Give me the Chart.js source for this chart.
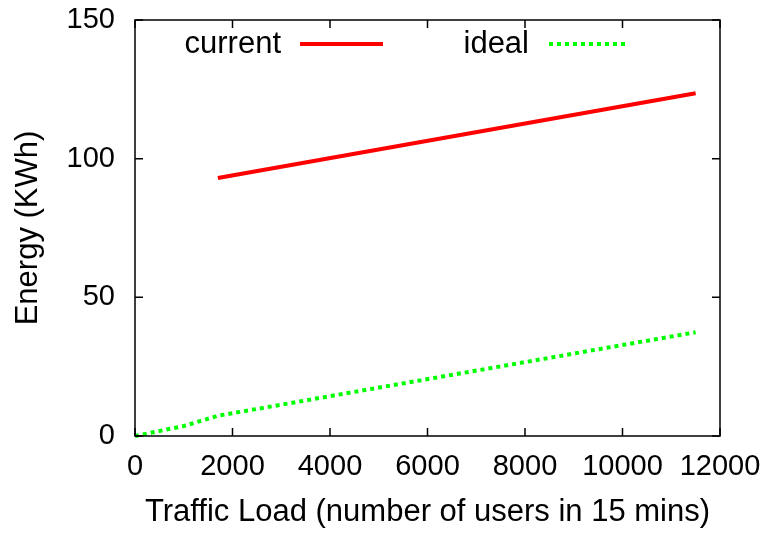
<!DOCTYPE html>
<html>
<head>
<meta charset="utf-8">
<script src="https://cdn.jsdelivr.net/npm/chart.js@4/dist/chart.umd.min.js"></script>
<style>
  html, body { margin: 0; padding: 0; background: #ffffff; }
  #wrap { width: 768px; height: 533px; }
</style>
</head>
<body>
<div id="wrap"><canvas id="c" width="768" height="533"></canvas></div>
<script>
// ---- data ----
const currentX = [1700, 11500];
const currentY = [93, 123.6];
const idealX = [0, 1000, 1700, 11500];
const idealY = [0, 3.6, 7.3, 37.4];
const seriesNames = ['current', 'ideal'];
const xTitle = 'Traffic Load (number of users in 15 mins)';
const yTitle = 'Energy (KWh)';
const xTickStep = 2000;
const yTickStep = 50;

const FONT = 'Liberation Sans, Arial, Helvetica, sans-serif';

function toPoints(xs, ys) { return xs.map((x, i) => ({ x: x, y: ys[i] })); }

const framePlugin = {
  id: 'frame',
  afterDraw(chart) {
    const ctx = chart.ctx;
    const a = chart.chartArea;
    const xs = chart.scales.x, ys = chart.scales.y;
    ctx.save();
    ctx.strokeStyle = '#000';
    ctx.lineWidth = 1.5;
    ctx.strokeRect(a.left, a.top, a.right - a.left, a.bottom - a.top);
    const tl = 8;
    ctx.beginPath();
    xs.ticks.forEach(t => {
      const p = xs.getPixelForValue(t.value);
      ctx.moveTo(p, a.bottom); ctx.lineTo(p, a.bottom - tl);
      ctx.moveTo(p, a.top); ctx.lineTo(p, a.top + tl);
    });
    ys.ticks.forEach(t => {
      const p = ys.getPixelForValue(t.value);
      ctx.moveTo(a.left, p); ctx.lineTo(a.left + tl, p);
      ctx.moveTo(a.right, p); ctx.lineTo(a.right - tl, p);
    });
    ctx.stroke();

    // legend (gnuplot style: text then line sample)
    const ly = 44;
    const entries = [
      { textRight: 281, x0: 300, x1: 383 },
      { textRight: 529, x0: 549, x1: 629 }
    ];
    ctx.font = '31px ' + FONT;
    ctx.textAlign = 'right';
    ctx.textBaseline = 'middle';
    chart.data.datasets.forEach((ds, i) => {
      const e = entries[i];
      ctx.fillStyle = '#000';
      ctx.fillText(ds.label, e.textRight, ly);
      ctx.beginPath();
      ctx.strokeStyle = ds.borderColor;
      ctx.lineWidth = ds.borderWidth;
      ctx.lineCap = 'butt';
      ctx.setLineDash(ds.borderDash || []);
      ctx.moveTo(e.x0, ly); ctx.lineTo(e.x1, ly);
      ctx.stroke();
      ctx.setLineDash([]);
    });
    ctx.restore();
  }
};

new Chart(document.getElementById('c'), {
  type: 'line',
  data: {
    datasets: [
      {
        label: seriesNames[0],
        data: toPoints(currentX, currentY),
        borderColor: '#ff0000',
        borderWidth: 4,
        pointRadius: 0,
        tension: 0,
        fill: false,
        clip: false
      },
      {
        label: seriesNames[1],
        data: toPoints(idealX, idealY),
        borderColor: '#00ff00',
        borderWidth: 4,
        borderDash: [4, 4],
        borderCapStyle: 'butt',
        pointRadius: 0,
        tension: 0,
        fill: false,
        clip: false
      }
    ]
  },
  options: {
    responsive: false,
    animation: false,
    devicePixelRatio: 1,
    layout: { padding: { left: 0, top: 20, right: 48, bottom: 0 } },
    plugins: { legend: { display: false }, tooltip: { enabled: false } },
    scales: {
      x: {
        type: 'linear',
        min: 0, max: 12000,
        grid: { display: false, drawTicks: false },
        border: { display: false },
        ticks: {
          stepSize: xTickStep,
          padding: 14,
          maxRotation: 0,
          autoSkip: false,
          color: '#000',
          font: { family: FONT, size: 29 },
          callback: (v) => String(v)
        },
        title: {
          display: true,
          text: xTitle,
          color: '#000',
          font: { family: FONT, size: 31 },
          padding: { top: 0, bottom: 2 }
        },
        afterFit(s) { s.height = 97; s.paddingLeft = 0; s.paddingRight = 0; }
      },
      y: {
        min: 0, max: 150,
        grid: { display: false, drawTicks: false },
        border: { display: false },
        ticks: {
          stepSize: yTickStep,
          padding: 20,
          color: '#000',
          font: { family: FONT, size: 29 },
          callback: (v) => String(v)
        },
        title: {
          display: true,
          text: yTitle,
          color: '#000',
          font: { family: FONT, size: 31 },
          padding: { top: 10, bottom: 0 }
        },
        afterFit(s) { s.width = 135; s.paddingTop = 0; s.paddingBottom = 0; }
      }
    }
  },
  plugins: [framePlugin]
});
</script>
</body>
</html>
